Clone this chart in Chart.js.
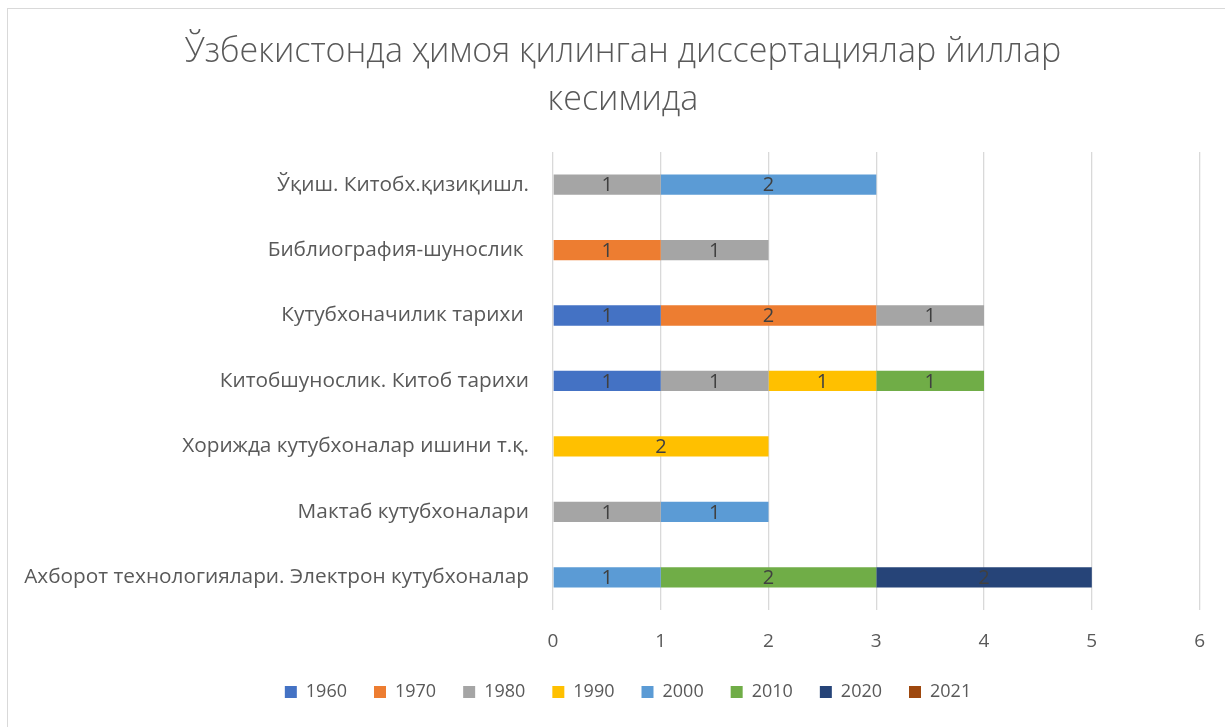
<!DOCTYPE html>
<html>
<head>
<meta charset="utf-8">
<script src="https://cdn.jsdelivr.net/npm/chart.js@4"></script>
<style>
  body { margin: 0; background: #fff; }
</style>
</head>
<body>
<canvas id="myChart" width="1225" height="727"></canvas>
<script>
const categories = [
    'Ўқиш. Китобх.қизиқишл.',
    'Библиография-шунослик ',
    'Кутубхоначилик тарихи ',
    'Китобшунослик. Китоб тарихи',
    'Хорижда кутубхоналар ишини т.қ.',
    'Мактаб кутубхоналари',
    'Ахборот технологиялари. Электрон кутубхоналар'
]
const years = ['1960', '1970', '1980', '1990', '2000', '2010', '2020', '2021']
const colors = ['#4472C4', '#ED7D31', '#A5A5A5', '#FFC000', '#5B9BD5', '#70AD47', '#264478', '#9E480E']

// one array per year, same order as categories
const y1960 = [null, null, 1, 1, null, null, null]
const y1970 = [null, 1, 2, null, null, null, null]
const y1980 = [1, 1, 1, 1, null, 1, null]
const y1990 = [null, null, null, 1, 2, null, null]
const y2000 = [2, null, null, null, null, 1, 1]
const y2010 = [null, null, null, 1, null, null, 2]
const y2020 = [null, null, null, null, null, null, 2]
const y2021 = [null, null, null, null, null, null, null]
const xTicks = [0, 1, 2, 3, 4, 5, 6]

const seriesValues = [y1960, y1970, y1980, y1990, y2000, y2010, y2020, y2021]
const textColor = '#595959'
const fontFamily = "'Open Sans', 'Noto Sans', sans-serif"

/**
 * affiche la valeur au milieu de chaque segment
 */
const valueLabels = {
    id: 'valueLabels',
    afterDatasetsDraw(chart) {
        const ctx = chart.ctx
        ctx.save()
        ctx.font = '20px ' + fontFamily
        ctx.fillStyle = '#404040'
        ctx.textAlign = 'center'
        ctx.textBaseline = 'middle'
        chart.data.datasets.forEach((ds, i) => {
            const meta = chart.getDatasetMeta(i)
            meta.data.forEach((bar, j) => {
                const v = ds.data[j]
                if (v == null || v === 0) return
                ctx.fillText(v, (bar.x + bar.base) / 2, bar.y + 1)
            })
        })
        ctx.restore()
    }
}

/**
 * cadre gris autour du graphique
 */
const frame = {
    id: 'frame',
    beforeDraw(chart) {
        const ctx = chart.ctx
        ctx.save()
        ctx.fillStyle = '#fff'
        ctx.fillRect(0, 0, chart.width, chart.height)
        ctx.strokeStyle = '#d9d9d9'
        ctx.lineWidth = 1
        ctx.strokeRect(7.5, 8.5, 1400, 1000)
        ctx.restore()
    }
}

/**
 * decale un peu le titre et la legende vers la droite
 */
const shiftBlocks = {
    id: 'shiftBlocks',
    afterLayout(chart) {
        if (chart.titleBlock) chart.titleBlock.left += 36
        if (chart.legend) chart.legend.left += 46
    }
}

const ctx = document.getElementById('myChart')

new Chart(ctx, {
    type: 'bar',
    data: {
        labels: categories,
        datasets: years.map((year, i) => ({
            label: year,
            data: seriesValues[i],
            backgroundColor: colors[i],
            borderWidth: 0,
            categoryPercentage: 1,
            barPercentage: 0.31,
        })),
    },
    options: {
        indexAxis: 'y',
        responsive: false,
        animation: false,
        layout: {
            padding: { left: 7, right: 22, top: 0, bottom: 16 }
        },
        scales: {
            x: {
                stacked: true,
                min: 0,
                max: 6,
                afterBuildTicks: scale => { scale.ticks = xTicks.map(v => ({ value: v })) },
                afterFit: scale => { scale.height = 46 },
                grid: { color: '#d9d9d9', lineWidth: 1.3, drawTicks: false },
                border: { display: false },
                ticks: {
                    color: textColor,
                    padding: 20,
                    font: { family: fontFamily, size: 19 }
                }
            },
            y: {
                stacked: true,
                afterFit: scale => { scale.width = 553 - 7 },
                grid: { display: false, drawTicks: false },
                border: { display: false },
                ticks: {
                    color: textColor,
                    padding: 24,
                    font: { family: fontFamily, size: 20.8 }
                }
            }
        },
        plugins: {
            title: {
                display: true,
                text: ['Ўзбекистонда ҳимоя қилинган диссертациялар йиллар', 'кесимида'],
                color: textColor,
                font: { family: fontFamily, size: 34, weight: '300', lineHeight: 1.41 },
                padding: { top: 28, bottom: 28 }
            },
            legend: {
                position: 'bottom',
                labels: {
                    color: textColor,
                    boxWidth: 12,
                    boxHeight: 12,
                    padding: 27,
                    font: { family: fontFamily, size: 18 }
                }
            },
            tooltip: { enabled: false }
        }
    },
    plugins: [frame, valueLabels, shiftBlocks]
});
</script>
</body>
</html>
